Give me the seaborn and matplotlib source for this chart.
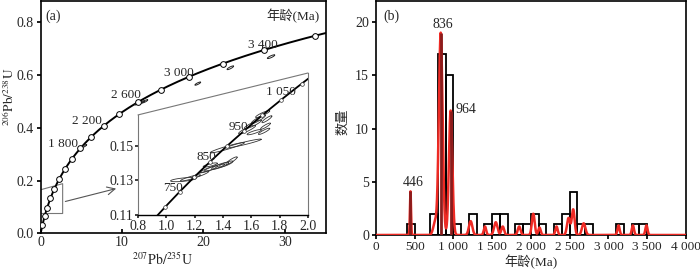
import numpy as np
import pandas as pd
import matplotlib
matplotlib.use("Agg")
import matplotlib.pyplot as plt
import seaborn as sns

# ---------------- data ----------------
# concordia marker ages (Ma) in the main panel and in the inset
main_marker_ages = [200, 400, 600, 800, 1000, 1200, 1400, 1600, 1800, 2000,
                    2200, 2400, 2600, 2800, 3000, 3200, 3400, 3600]
main_labels = ["1 800", "2 200", "2 600", "3 000", "3 400"]
main_label_x = [2.8, 5.7, 10.5, 17.0, 27.3]
main_label_y = [0.338, 0.427, 0.523, 0.608, 0.715]

inset_marker_ages = [700, 750, 800, 850, 900, 950, 1000, 1050, 1100]
inset_labels = ["750", "850", "950", "1 050"]
inset_label_x = [1.05, 1.28, 1.51, 1.81]
inset_label_y = [0.1257, 0.1436, 0.161, 0.181]

# error ellipses (207Pb/235U, 206Pb/238U, sigma x, sigma y, rho)
main_ell_x = [5.3, 11.9, 12.4, 12.8, 19.3, 23.3, 28.3]
main_ell_y = [0.330, 0.492, 0.496, 0.500, 0.567, 0.627, 0.669]
main_ell_sx = [0.35, 0.35, 0.35, 0.35, 0.35, 0.40, 0.45]
main_ell_sy = [0.006, 0.006, 0.006, 0.006, 0.006, 0.007, 0.007]
main_ell_rho = [0.85, 0.85, 0.85, 0.85, 0.85, 0.85, 0.85]

ins_ell_x = [1.12, 1.17, 1.24, 1.30, 1.34, 1.38, 1.42, 1.46, 1.31,
             1.43, 1.55, 1.57, 1.61, 1.65, 1.68, 1.71, 1.70, 1.69, 1.62]
ins_ell_y = [0.1305, 0.1315, 0.1335, 0.1365, 0.1375, 0.1385, 0.1395, 0.1415, 0.1390,
             0.1490, 0.1515, 0.1595, 0.1625, 0.1655, 0.1685, 0.1655, 0.1615, 0.1585, 0.1580]
ins_ell_sx = [0.09, 0.07, 0.06, 0.06, 0.07, 0.06, 0.05, 0.04, 0.05,
              0.12, 0.12, 0.06, 0.06, 0.05, 0.05, 0.035, 0.035, 0.04, 0.05]
ins_ell_sy = [0.0012, 0.0018, 0.0020, 0.0020, 0.0020, 0.0020, 0.0018, 0.0022, 0.0012,
              0.0030, 0.0025, 0.0025, 0.0025, 0.0025, 0.0020, 0.0020, 0.0018, 0.0018, 0.0015]
ins_ell_rho = [0.6, 0.9, 0.9, 0.9, 0.9, 0.85, 0.85, 0.9, 0.8,
               0.95, 0.95, 0.9, 0.9, 0.9, 0.9, 0.9, 0.9, 0.9, 0.85]

# histogram (bin left edges, 100 Ma bins) and counts
bin_left = [400, 700, 800, 900, 1000, 1200, 1400, 1500, 1600, 1800, 1900,
            2000, 2100, 2300, 2400, 2500, 2600, 2700, 3100, 3300, 3400]
bin_count = [1, 2, 17, 15, 1, 2, 1, 2, 2, 1, 1, 2, 1, 1, 2, 4, 1, 1, 1, 1, 1]

# probability density components (peak age, height, width)
pdp_age = [446, 765, 836, 964, 1222, 1407, 1546, 1636, 1848, 2030, 2110,
           2330, 2485, 2545, 2680, 3130, 3315, 3490]
pdp_height = [4.1, 1.2, 19.0, 11.7, 1.3, 0.8, 1.2, 0.8, 0.8, 2.0, 0.7,
              0.8, 1.6, 2.4, 1.1, 0.9, 0.9, 0.9]
pdp_sigma = [7, 25, 24, 22, 22, 15, 22, 18, 18, 18, 15,
             15, 20, 18, 22, 14, 14, 14]

peak_labels = ["446", "836", "964"]
peak_ages = [446, 836, 964]
peak_heights = [4.1, 19.0, 11.7]
peak_label_x = [481, 862, 1167]
peak_label_y = [4.9, 19.8, 11.8]

hist_xticks = [0, 500, 1000, 1500, 2000, 2500, 3000, 3500, 4000]
hist_xticklabels = ["0", "500", "1 000", "1 500", "2 000", "2 500", "3 000", "3 500", "4 000"]

# ---------------- style ----------------
sns.set_theme(style="ticks")
SERIF = "Liberation Serif"
CJK = [SERIF, "Noto Sans CJK SC"]
plt.rcParams["font.family"] = [SERIF, "Noto Sans CJK SC"]
plt.rcParams["mathtext.fontset"] = "stix"
plt.rcParams["axes.linewidth"] = 1.2
plt.rcParams["xtick.major.size"] = 3
plt.rcParams["ytick.major.size"] = 3

L238 = 1.55125e-4  # per Ma
L235 = 9.8485e-4


def conc(t):
    t = np.asarray(t, float)
    return np.exp(L235 * t) - 1, np.exp(L238 * t) - 1


def ellipse(cx, cy, sx, sy, rho):
    th = np.linspace(0, 2 * np.pi, 120)
    x = cx + sx * np.cos(th)
    y = cy + sy * (rho * np.cos(th) + np.sqrt(1 - rho ** 2) * np.sin(th))
    return x, y


fig = plt.figure(figsize=(7.0, 2.69), dpi=100)

# ---------------- panel (a) ----------------
ax = fig.add_axes([0.0581, 0.1327, 0.407, 0.8636])
tt = np.linspace(0, 3700, 800)
cx, cy = conc(tt)
sns.lineplot(x=cx, y=cy, sort=False, color="black", lw=1.4, ax=ax, zorder=3)
mx, my = conc(main_marker_ages)
sns.scatterplot(x=mx, y=my, s=17, facecolor="white", edgecolor="black",
                linewidth=0.7, ax=ax, zorder=4)
for i in range(len(main_ell_x)):
    ex, ey = ellipse(main_ell_x[i], main_ell_y[i], main_ell_sx[i], main_ell_sy[i], main_ell_rho[i])
    ax.plot(ex, ey, color="#222222", lw=0.7, zorder=3)
for s, x, y in zip(main_labels, main_label_x, main_label_y):
    ax.text(x, y, s, fontsize=9.5, ha="center", va="center", family=SERIF)

# small selection box + arrow
ax.plot([0, 2.7, 2.7, 0], [0.165, 0.188, 0.075, 0.075], color="#777777", lw=0.8)
ax.annotate("", xy=(9.6, 0.172), xytext=(2.7, 0.118),
            arrowprops=dict(arrowstyle="->", color="#555555", lw=0.8,
                            mutation_scale=14))

ax.set_xlim(0, 35)
ax.set_ylim(0, 0.88)
ax.set_xticks([0, 10, 20, 30])
ax.set_yticks([0.0, 0.2, 0.4, 0.6, 0.8])
ax.set_yticklabels(["0.0", "0.2", "0.4", "0.6", "0.8"])
ax.tick_params(labelsize=10, direction="out", length=3, color="black", pad=2)
ax.tick_params(axis="x", direction="in")
for sp in ax.spines.values():
    sp.set_visible(True)
    sp.set_color("black")
ax.set_xlabel("")
ax.set_ylabel("")
ax.text(0.015, 0.965, "(a)", transform=ax.transAxes, fontsize=10, va="top", ha="left")
ax.text(0.98, 0.965, "年龄(Ma)", transform=ax.transAxes, fontsize=9.5, va="top",
        ha="right", family=CJK)
fig.text(163 / 700, 1 - 260 / 269, r"$^{207}\mathrm{Pb}/^{235}\mathrm{U}$",
         ha="center", va="center", fontsize=10)
fig.text(9 / 700, 1 - 97 / 269, r"$^{206}\mathrm{Pb}/^{238}\mathrm{U}$",
         ha="center", va="center", fontsize=9.5, rotation=90)

# ---------------- inset ----------------
ai = fig.add_axes([138 / 700, (269 - 215) / 269, 170 / 700, 142 / 269])
ai.patch.set_alpha(0)
ai.set_xlim(0.8, 2.0)
ai.set_ylim(0.11, 0.1923)
ti = np.linspace(600, 1130, 400)
ix, iy = conc(ti)
sns.lineplot(x=ix, y=iy, sort=False, color="black", lw=1.3, ax=ai, zorder=3)
imx, imy = conc(inset_marker_ages)
sns.scatterplot(x=imx, y=imy, s=7, facecolor="white", edgecolor="#333333",
                linewidth=0.5, ax=ai, zorder=4)
for i in range(len(ins_ell_x)):
    ex, ey = ellipse(ins_ell_x[i], ins_ell_y[i], ins_ell_sx[i], ins_ell_sy[i], ins_ell_rho[i])
    ai.plot(ex, ey, color="#333333", lw=0.6, zorder=2)
for s, x, y in zip(inset_labels, inset_label_x, inset_label_y):
    ai.text(x, y, s, fontsize=9.5, ha="center", va="center", zorder=5)
ai.spines["top"].set_visible(False)
ai.spines["left"].set_bounds(0.11, 0.168)
ai.spines["left"].set_color("#777777")
ai.spines["left"].set_linewidth(0.8)
ai.spines["right"].set_color("#777777")
ai.spines["right"].set_linewidth(0.8)
ai.spines["bottom"].set_color("black")
ai.spines["bottom"].set_linewidth(1.0)
ai.plot([0.8, 2.0], [0.168, 0.1923], color="#777777", lw=0.8, clip_on=False)
ai.set_xticks([0.8, 1.0, 1.2, 1.4, 1.6, 1.8, 2.0])
ai.set_xticklabels(["0.8", "1.0", "1.2", "1.4", "1.6", "1.8", "2.0"])
ai.set_yticks([0.11, 0.13, 0.15])
ai.set_yticklabels(["0.11", "0.13", "0.15"])
ai.tick_params(labelsize=10, direction="out", length=2, pad=1.5)
ai.set_xlabel("")
ai.set_ylabel("")

# ---------------- panel (b) ----------------
bx = fig.add_axes([0.537, 0.1264, 0.443, 0.870])
grain_ages = np.repeat(np.array(bin_left, float) + 50, bin_count)
sns.histplot(x=grain_ages, bins=np.arange(0, 4001, 100),
             fill=False, element="bars", color="black", linewidth=1.3, ax=bx, zorder=2)
ages = np.linspace(0, 4000, 4001)
dens = np.zeros_like(ages)
for a, h, s in zip(pdp_age, pdp_height, pdp_sigma):
    dens += h * np.exp(-0.5 * ((ages - a) / s) ** 2)
sns.lineplot(x=ages, y=dens, color="#ee2a24", lw=1.8, ax=bx, zorder=3)
bx.vlines(peak_ages, 0, peak_heights, color="#8b1c1c", lw=2.0, zorder=4)
for s, x, y in zip(peak_labels, peak_label_x, peak_label_y):
    bx.text(x, y, s, fontsize=10, ha="center", va="center", zorder=5)
bx.set_xlim(0, 4000)
bx.set_ylim(0, 22)
bx.set_xticks(hist_xticks)
bx.set_xticklabels(hist_xticklabels)
bx.set_yticks([0, 5, 10, 15, 20])
bx.tick_params(labelsize=10, direction="out", length=3, color="black", pad=2)
bx.tick_params(axis="x", labelsize=9.5, pad=1.5)
for sp in bx.spines.values():
    sp.set_visible(True)
    sp.set_color("black")
bx.set_xlabel("")
bx.set_ylabel("")
bx.text(0.023, 0.965, "(b)", transform=bx.transAxes, fontsize=10, va="top", ha="left")
fig.text(531 / 700, 1 - 262 / 269, "年龄(Ma)", ha="center", va="center",
         fontsize=9.5, family=CJK)
fig.text(343 / 700, 1 - 122 / 269, "数量", ha="center", va="center",
         fontsize=9.5, rotation=90, family=CJK)

fig.savefig("out.png", dpi=100)
